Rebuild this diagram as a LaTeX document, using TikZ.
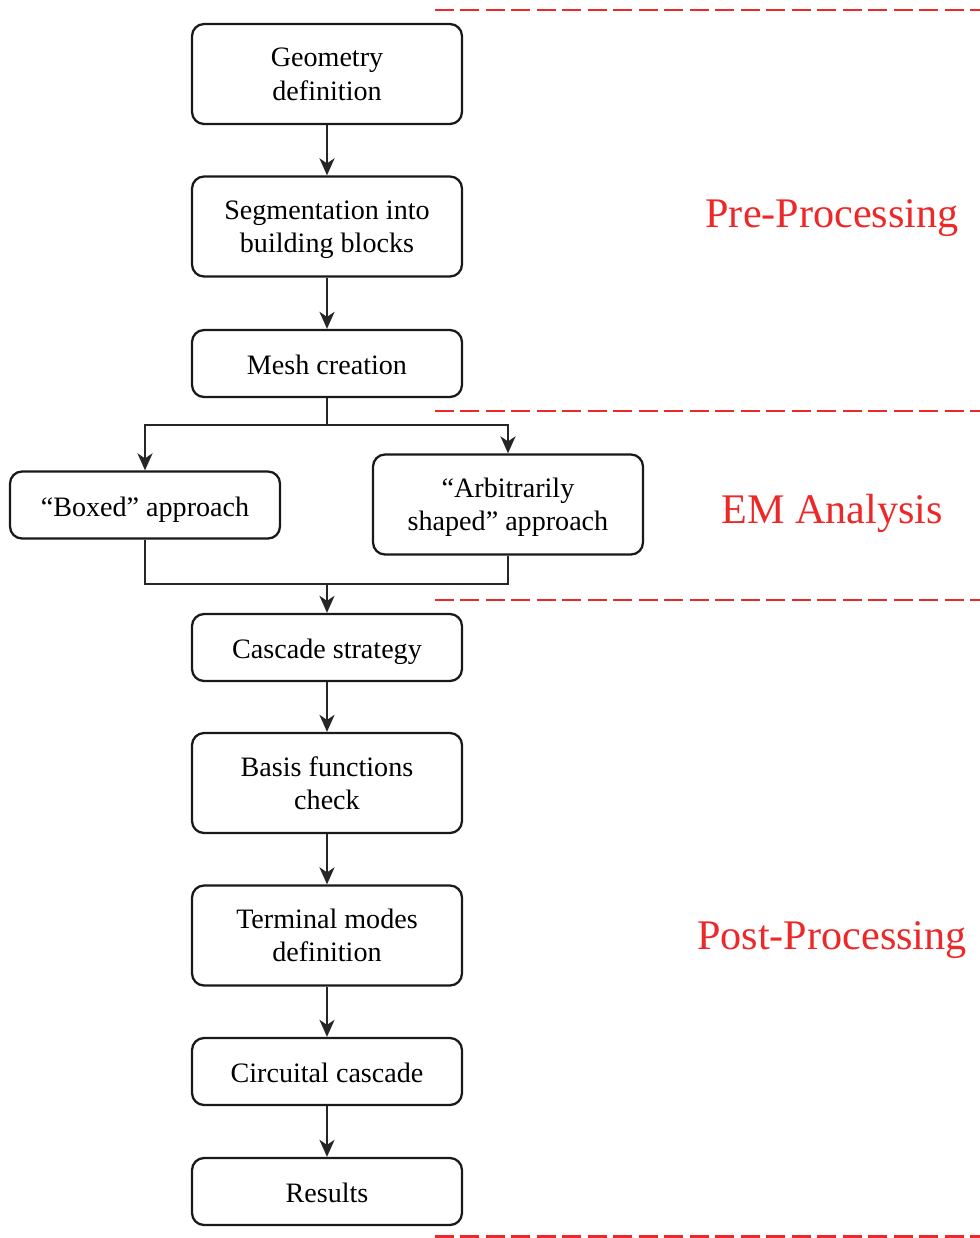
\documentclass[tikz,border=0pt]{standalone}
\usepackage{fontspec}
\setmainfont{Liberation Serif}
\usepackage{tikz}
\usetikzlibrary{arrows.meta}
\definecolor{StageRed}{RGB}{236,40,40}

\begin{document}
\begin{tikzpicture}[x=0.02cm,y=-0.02cm,
	block/.style={rectangle,draw=black!90,line width=1.3pt,rounded corners=0.24cm,align=center,
		minimum width=5.4cm,font=\fontsize{16}{19}\selectfont,inner sep=0pt,text depth=0pt,
		execute at begin node={\rule{0pt}{0.8em}}},
	tall/.style={block,minimum height=2cm,execute at begin node={\rule{0pt}{0.98em}}},
	short/.style={block,minimum height=1.34cm},
	link/.style={line width=1.3pt,draw=black!85},
	flow/.style={link,-{Stealth[length=0.34cm,width=0.3cm,inset=0.1cm]}},
	stage/.style={line width=1.2pt,color=StageRed,dash pattern=on 0.38cm off 0.13cm},
	phase/.style={color=StageRed,font=\fontsize{24}{28}\selectfont}]

	\useasboundingbox (0,0) rectangle (980,1238);

	% main column
	\node[tall] (geom) at (327,74) {Geometry\\definition};
	\node[tall] (seg) at (327,226.5) {Segmentation into\\building blocks};
	\node[short] (mesh) at (327,363.5) {Mesh creation};

	\node[short] (boxed) at (145,505) {``Boxed'' approach};
	\node[tall] (arb) at (508,504.5) {``Arbitrarily\\shaped'' approach};

	\node[short] (casc) at (327,647.5) {Cascade strategy};
	\node[tall] (basis) at (327,783) {Basis functions\\check};
	\node[tall] (term) at (327,935.5) {Terminal modes\\definition};
	\node[short] (circ) at (327,1071.5) {Circuital cascade};
	\node[short] (res) at (327,1191.5) {Results};

	\draw[flow] (geom) -- (seg);
	\draw[flow] (seg) -- (mesh);

	\coordinate (split) at (327,425);
	\coordinate (merge) at (327,584);
	\draw[link] (mesh.south) -- (split);
	\draw[flow] (split) -| (boxed.north);
	\draw[flow] (split) -| (arb.north);
	\draw[link] (boxed.south) |- (merge);
	\draw[link] (arb.south) |- (merge);
	\draw[flow] (merge) -- (casc.north);

	\draw[flow] (casc) -- (basis);
	\draw[flow] (basis) -- (term);
	\draw[flow] (term) -- (circ);
	\draw[flow] (circ) -- (res);

	% stage separators
	\coordinate (s1a) at (435,10);    \coordinate (s1b) at (980,10);
	\coordinate (s2a) at (435,411);   \coordinate (s2b) at (980,411);
	\coordinate (s3a) at (435,600);   \coordinate (s3b) at (980,600);
	\coordinate (s4a) at (435,1236.5);  \coordinate (s4b) at (980,1236.5);
	\draw[stage] (s1a) -- (s1b);
	\draw[stage] (s2a) -- (s2b);
	\draw[stage] (s3a) -- (s3b);
	\draw[stage] (s4a) -- (s4b);

	\node[phase] (pre) at (832,218) {Pre-Processing};
	\node[phase] (em) at (832,513) {EM Analysis};
	\node[phase] (post) at (832,940) {Post-Processing};

\end{tikzpicture}
\end{document}
